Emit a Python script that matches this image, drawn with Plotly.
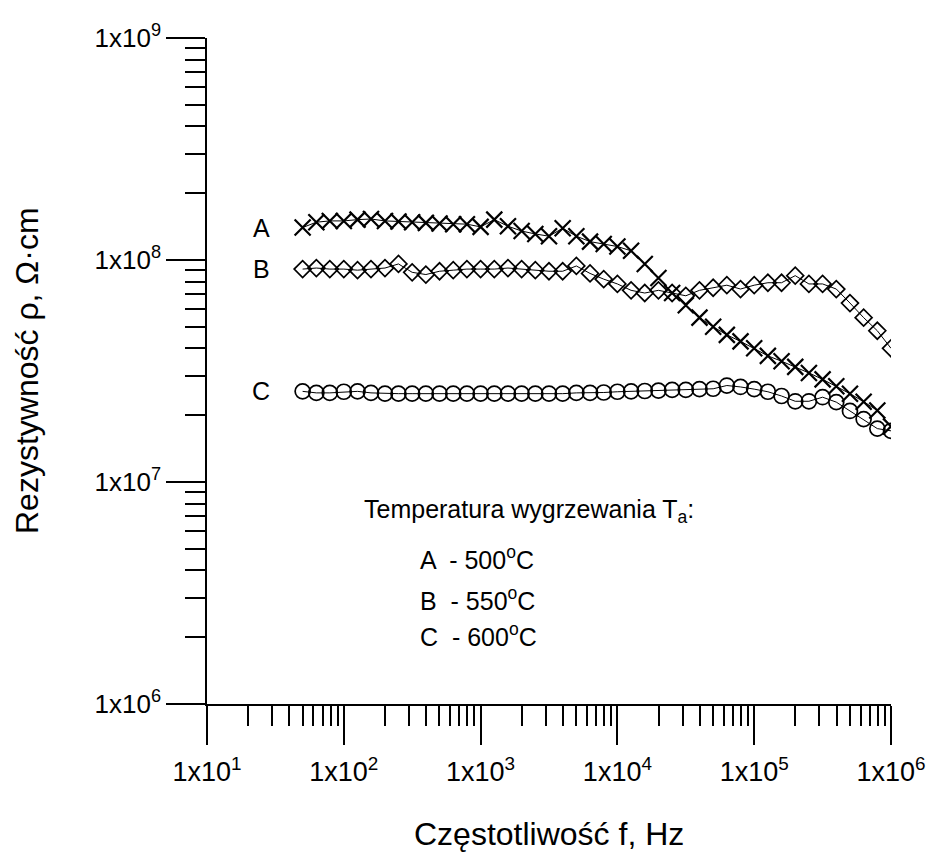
import math
import plotly.graph_objects as go

# frequencies, Hz (10 points per decade, 50 Hz .. 1 MHz)
freq = [50, 63, 79, 100, 126, 158, 200, 251, 316, 398, 501, 631, 794,
        1000, 1259, 1585, 1995, 2512, 3162, 3981, 5012, 6310, 7943,
        10000, 12589, 15849, 19953, 25119, 31623, 39811, 50119, 63096, 79433,
        100000, 125893, 158489, 199526, 251189, 316228, 398107, 501187, 630957, 794328,
        1000000]

# A - 500 C
rho_A = [1.40e8, 1.48e8, 1.50e8, 1.50e8, 1.52e8, 1.53e8, 1.50e8, 1.49e8, 1.48e8, 1.47e8,
         1.46e8, 1.45e8, 1.45e8, 1.41e8, 1.52e8, 1.42e8, 1.35e8, 1.31e8, 1.28e8, 1.39e8,
         1.28e8, 1.21e8, 1.18e8, 1.15e8, 1.10e8, 9.6e7, 8.3e7, 7.1e7, 6.25e7, 5.5e7,
         5.0e7, 4.6e7, 4.3e7, 4.0e7, 3.7e7, 3.5e7, 3.3e7, 3.1e7, 2.9e7, 2.7e7,
         2.5e7, 2.3e7, 2.1e7, 1.78e7]

# B - 550 C
rho_B = [9.1e7, 9.2e7, 9.1e7, 9.1e7, 9.0e7, 9.1e7, 9.2e7, 9.6e7, 8.8e7, 8.6e7,
         8.9e7, 9.0e7, 9.1e7, 9.1e7, 9.1e7, 9.2e7, 9.1e7, 9.0e7, 8.9e7, 8.9e7,
         9.4e7, 8.7e7, 8.2e7, 7.8e7, 7.3e7, 7.1e7, 7.3e7, 7.1e7, 6.9e7, 7.3e7,
         7.5e7, 7.7e7, 7.4e7, 7.7e7, 7.9e7, 7.9e7, 8.5e7, 7.8e7, 7.8e7, 7.4e7,
         6.4e7, 5.5e7, 4.8e7, 4.0e7]

# C - 600 C
rho_C = [2.56e7, 2.52e7, 2.52e7, 2.55e7, 2.56e7, 2.52e7, 2.50e7, 2.50e7, 2.50e7, 2.50e7,
         2.50e7, 2.50e7, 2.50e7, 2.50e7, 2.50e7, 2.50e7, 2.50e7, 2.50e7, 2.50e7, 2.50e7,
         2.52e7, 2.52e7, 2.53e7, 2.55e7, 2.56e7, 2.57e7, 2.58e7, 2.60e7, 2.60e7, 2.62e7,
         2.63e7, 2.72e7, 2.68e7, 2.62e7, 2.55e7, 2.44e7, 2.31e7, 2.31e7, 2.41e7, 2.29e7,
         2.09e7, 1.92e7, 1.74e7, 1.70e7]

x_tick_vals = [1e1, 1e2, 1e3, 1e4, 1e5, 1e6]
x_tick_text = ["1x10<sup>1</sup>", "1x10<sup>2</sup>", "1x10<sup>3</sup>",
               "1x10<sup>4</sup>", "1x10<sup>5</sup>", "1x10<sup>6</sup>"]
y_tick_vals = [1e6, 1e7, 1e8, 1e9]
y_tick_text = ["1x10<sup>6</sup>", "1x10<sup>7</sup>", "1x10<sup>8</sup>", "1x10<sup>9</sup>"]

series_labels = ["A", "B", "C"]
legend_title = "Temperatura wygrzewania T<sub>a</sub>:"
legend_lines = ["A  - 500<sup>o</sup>C", "B  - 550<sup>o</sup>C", "C  - 600<sup>o</sup>C"]
x_title = "Częstotliwość f, Hz"
y_title = "Rezystywność ρ, Ω·cm"

FONT = "Liberation Sans, Arial, sans-serif"
BLACK = "black"

fig = go.Figure()
fig.add_trace(go.Scatter(x=freq, y=rho_A, mode="lines+markers",
                         line=dict(color=BLACK, width=1),
                         marker=dict(symbol="x-thin-open", size=16,
                                     line=dict(color=BLACK, width=2.2))))
fig.add_trace(go.Scatter(x=freq, y=rho_B, mode="lines+markers",
                         line=dict(color=BLACK, width=1),
                         marker=dict(symbol="diamond-open", size=13, color=BLACK,
                                     line=dict(color=BLACK, width=1.7))))
fig.add_trace(go.Scatter(x=freq, y=rho_C, mode="lines+markers",
                         line=dict(color=BLACK, width=1),
                         marker=dict(symbol="circle-open", size=15, color=BLACK,
                                     line=dict(color=BLACK, width=1.7))))

minor_x = [m * 10 ** k for k in range(1, 6) for m in range(2, 10)]
minor_y = [m * 10 ** k for k in range(6, 9) for m in range(2, 10)]

fig.update_xaxes(type="log", range=[1, 6], showgrid=False, zeroline=False,
                 showline=True, linecolor=BLACK, linewidth=1.5,
                 tickmode="array", tickvals=x_tick_vals, ticktext=x_tick_text,
                 ticks="outside", ticklen=39, tickwidth=1.5, tickcolor=BLACK,
                 ticklabelstandoff=4,
                 minor=dict(tickmode="array", tickvals=minor_x, ticks="outside",
                            ticklen=20, tickwidth=1.5, tickcolor=BLACK, showgrid=False),
                 tickfont=dict(family=FONT, size=27, color=BLACK))
fig.update_yaxes(type="log", range=[6, 9], showgrid=False, zeroline=False,
                 showline=True, linecolor=BLACK, linewidth=1.5,
                 tickmode="array", tickvals=y_tick_vals, ticktext=y_tick_text,
                 ticks="outside", ticklen=39, tickwidth=1.5, tickcolor=BLACK,
                 ticklabelstandoff=0,
                 minor=dict(tickmode="array", tickvals=minor_y, ticks="outside",
                            ticklen=20, tickwidth=1.5, tickcolor=BLACK, showgrid=False),
                 tickfont=dict(family=FONT, size=26, color=BLACK))

annotations = []
for lab, series in zip(series_labels, [rho_A, rho_B, rho_C]):
    annotations.append(dict(x=0, y=math.log10(series[0]), xref="paper", yref="y",
                            text=lab, showarrow=False, xanchor="center", yanchor="middle",
                            xshift=54, font=dict(family=FONT, size=25, color=BLACK)))
annotations.append(dict(x=0.226, y=0.29, xref="paper", yref="paper", text=legend_title,
                        showarrow=False, xanchor="left", yanchor="middle",
                        font=dict(family=FONT, size=25, color=BLACK)))
for i, (t, yy) in enumerate(zip(legend_lines, [0.219, 0.157, 0.103])):
    annotations.append(dict(x=0.308, y=yy, xref="paper", yref="paper", text=t,
                            showarrow=False, xanchor="left", yanchor="middle",
                            font=dict(family=FONT, size=25, color=BLACK)))
# axis titles
annotations.append(dict(x=0.5, y=0, xref="paper", yref="paper", text=x_title,
                        showarrow=False, xanchor="center", yanchor="middle",
                        yshift=-130, font=dict(family=FONT, size=32, color=BLACK)))
annotations.append(dict(x=0, y=0.5, xref="paper", yref="paper", text=y_title,
                        showarrow=False, xanchor="center", yanchor="middle",
                        textangle=-90, xshift=-180,
                        font=dict(family=FONT, size=32, color=BLACK)))

# page body has an 8px margin, so the figure is drawn 8px smaller and shifted
fig.update_layout(width=930, height=852, showlegend=False,
                  plot_bgcolor="white", paper_bgcolor="white",
                  margin=dict(l=199, r=46, t=21, b=156),
                  annotations=annotations)

fig.write_html("out.html")
